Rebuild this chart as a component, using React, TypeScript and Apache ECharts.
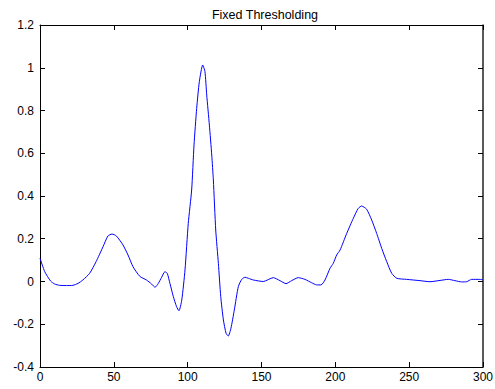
import React, { useEffect, useRef } from "react";
import * as echarts from "echarts";

const titleText = "Fixed Thresholding";

const sampleX = [
  0, 3.2, 7.2, 10, 13.3, 18, 22.3, 25.7, 29, 33.6, 38, 42.7, 46, 48.8, 51.7, 56.2, 59.6, 63, 67.6,
  72.1, 75.6, 77.9, 80.1, 82.4, 84.6, 86.2, 88, 90.3, 92.5, 94.1, 96, 98.2, 100.4, 102.7, 104.3, 106.1,
  107.9, 110.2, 111.7, 112.9, 114.7, 116.3, 117.4, 119, 120.8, 122.4, 124.2, 126, 127.5, 129.3, 131.6,
  134.3, 136.6, 138.8, 141.1, 144.5, 151.2, 158, 162.5, 166.6, 170.4, 174.9, 179.4, 184, 187.4, 190.3,
  193, 196.4, 198.6, 200.9, 203.2, 207.7, 212.2, 215.5, 217.8, 221.2, 224.6, 228, 231.4, 234.8, 238.2,
  241.6, 248.3, 257.3, 264.1, 270.9, 276.5, 281, 285.6, 289, 292.3, 297.9, 300,
];

const sampleY = [
  0.109, 0.046, 0.002, -0.012, -0.018, -0.019, -0.018, -0.009, 0.007, 0.038, 0.093, 0.163, 0.213,
  0.222, 0.213, 0.171, 0.124, 0.069, 0.024, 0.007, -0.012, -0.027, -0.009, 0.02, 0.046, 0.038, -0.009,
  -0.071, -0.118, -0.137, -0.087, 0.054, 0.272, 0.428, 0.639, 0.81, 0.935, 1.013, 0.982, 0.873, 0.732,
  0.592, 0.475, 0.241, 0.085, -0.071, -0.18, -0.242, -0.255, -0.219, -0.133, -0.024, 0.01, 0.02, 0.015,
  0.007, 0.0, 0.018, 0.004, -0.01, 0.004, 0.018, 0.01, -0.006, -0.016, -0.016, 0.007, 0.062, 0.085,
  0.124, 0.147, 0.225, 0.296, 0.342, 0.353, 0.338, 0.288, 0.225, 0.155, 0.093, 0.038, 0.015, 0.01, 0.004,
  -0.001, 0.005, 0.01, 0.004, -0.002, -0.001, 0.01, 0.01, 0.008,
];

const xMin = 0;
const xMax = 300;
const xStep = 50;
const yMin = -0.4;
const yMax = 1.2;
const yStep = 0.2;

export default function App() {
  const ref = useRef<HTMLDivElement>(null);
  useEffect(() => {
    if (!ref.current) return;
    const chart = echarts.init(ref.current, null, { renderer: "svg" });
    const font = "'Liberation Sans', Arial, Helvetica, sans-serif";
    const axisCommon = {
      axisLine: { show: true, onZero: false, lineStyle: { color: "#000", width: 1 } },
      axisTick: { show: true, inside: true, length: 5, lineStyle: { color: "#000" } },
      splitLine: { show: false },
    };
    const fmtY = (v: number) => {
      const r = Math.round(v * 10) / 10;
      return String(r);
    };
    chart.setOption({
      animation: false,
      backgroundColor: "#fff",
      title: {
        text: titleText,
        left: 260,
        top: 3,
        textAlign: "center",
        textStyle: { fontFamily: font, fontSize: 12.5, fontWeight: "normal", color: "#000" },
      },
      grid: { left: 40, right: 12, top: 25, bottom: 22, containLabel: false, outerBoundsMode: "none" },
      xAxis: [
        {
          type: "value",
          min: xMin,
          max: xMax,
          interval: xStep,
          position: "bottom",
          ...axisCommon,
          axisLabel: { fontFamily: font, fontSize: 12, color: "#000", margin: 4 },
        },
        {
          type: "value",
          min: xMin,
          max: xMax,
          interval: xStep,
          position: "top",
          ...axisCommon,
          axisLabel: { show: false },
        },
      ],
      yAxis: [
        {
          type: "value",
          min: yMin,
          max: yMax,
          interval: yStep,
          position: "left",
          ...axisCommon,
          axisLabel: { fontFamily: font, fontSize: 12, color: "#000", margin: 6, formatter: fmtY },
        },
        {
          type: "value",
          min: yMin,
          max: yMax,
          interval: yStep,
          position: "right",
          ...axisCommon,
          axisLine: { show: true, onZero: false, lineStyle: { color: "#222", width: 1.5 } },
          axisLabel: { show: false },
        },
      ],
      series: [
        {
          type: "line",
          data: sampleX.map((x, i) => [x, sampleY[i]]),
          showSymbol: false,
          smooth: 0.2,
          lineStyle: { color: "#0000ff", width: 1 },
          silent: true,
        },
      ],
    });
    return () => chart.dispose();
  }, []);
  return (
    <div
      ref={ref}
      style={{ position: "fixed", left: 0, top: 0, width: 495, height: 389, background: "#fff" }}
    />
  );
}
